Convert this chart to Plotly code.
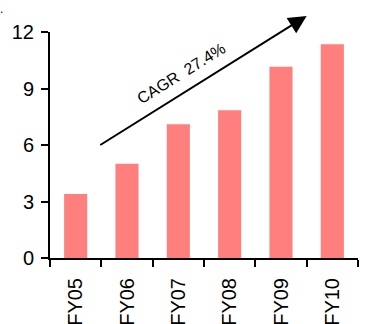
import plotly.graph_objects as go

years = ["FY05", "FY06", "FY07", "FY08", "FY09", "FY10"]
values = [3.4, 5.0, 7.1, 7.85, 10.15, 11.35]
y_ticks = [0, 3, 6, 9, 12]
cagr_label = "CAGR  27.4%"

fig = go.Figure(
    go.Bar(
        x=years,
        y=values,
        marker=dict(color="#FF7F7F", line=dict(width=0)),
        width=0.45,
    )
)

# trend arrow with growth label
fig.add_annotation(
    x=4.5, y=12.85, ax=0.45, ay=5.95,
    xref="x", yref="y", axref="x", ayref="y",
    showarrow=True, arrowhead=2, arrowsize=1.8, arrowwidth=2,
    arrowcolor="#000000", text="",
)
fig.add_annotation(
    x=2.05, y=9.8, xref="x", yref="y",
    text=cagr_label, showarrow=False, textangle=-32,
    font=dict(family="Liberation Sans", size=16, color="#000000"),
)
fig.add_annotation(
    x=-0.17, y=1.14, xref="paper", yref="paper",
    text=".", showarrow=False,
    font=dict(family="Liberation Sans", size=12, color="#000000"),
)

fig.update_layout(
    width=374, height=324,
    margin=dict(l=50, r=16, t=32, b=66),
    paper_bgcolor="white", plot_bgcolor="white",
    showlegend=False,
    font=dict(family="Liberation Sans", color="#000000"),
)
fig.update_xaxes(
    type="category", automargin=False,
    showline=True, linecolor="#000000", linewidth=2,
    ticks="outside", ticklen=7, tickwidth=2, tickcolor="#000000",
    tickson="boundaries", tickangle=-90,
    tickfont=dict(size=20), ticklabelstandoff=10,
    showgrid=False, zeroline=False,
)
fig.update_yaxes(
    range=[0, 12], tickvals=y_ticks, automargin=False,
    showline=True, linecolor="#000000", linewidth=2,
    ticks="outside", ticklen=7, tickwidth=2, tickcolor="#000000",
    tickfont=dict(size=20), ticklabelstandoff=3,
    showgrid=False, zeroline=False,
)

fig.write_html("out.html")
